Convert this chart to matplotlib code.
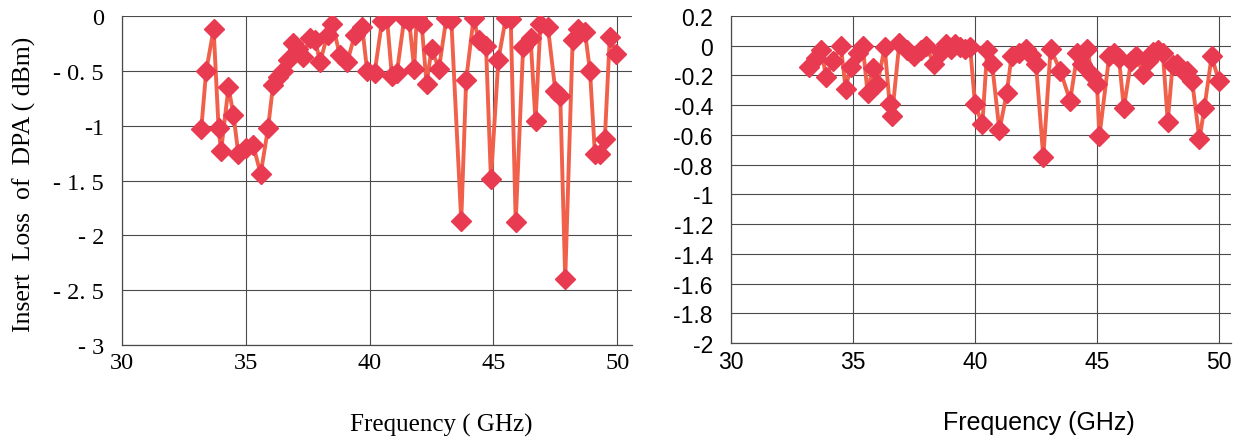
import numpy as np
import matplotlib.pyplot as plt

# left chart: insert loss of DPA (dBm) vs frequency
f_left = [33.2, 33.4, 33.7, 33.9, 34.0, 34.3, 34.5, 34.7, 35.0, 35.3, 35.6, 35.9,
          36.1, 36.3, 36.5, 36.7, 36.9, 37.1, 37.3, 37.6, 37.8, 38.0, 38.3, 38.5,
          38.8, 39.1, 39.4, 39.7, 39.9, 40.2, 40.5, 40.7, 40.9, 41.1, 41.4, 41.6,
          41.8, 41.9, 42.1, 42.3, 42.5, 42.8, 43.1, 43.3, 43.7, 43.9, 44.2, 44.4,
          44.7, 44.9, 45.2, 45.5, 45.7, 45.9, 46.2, 46.5, 46.7, 46.9, 47.2, 47.5,
          47.7, 47.9, 48.2, 48.4, 48.7, 48.9, 49.1, 49.3, 49.5, 49.7, 49.95]
il_left = [-1.03, -0.50, -0.12, -1.02, -1.23, -0.65, -0.90, -1.26, -1.20, -1.18, -1.44, -1.02,
           -0.63, -0.56, -0.50, -0.40, -0.25, -0.30, -0.37, -0.20, -0.22, -0.42, -0.17, -0.07,
           -0.36, -0.42, -0.17, -0.10, -0.50, -0.52, -0.05, -0.02, -0.55, -0.52, -0.02, -0.05,
           -0.48, -0.02, -0.07, -0.62, -0.30, -0.48, -0.02, -0.04, -1.87, -0.58, -0.02, -0.22,
           -0.27, -1.49, -0.40, -0.02, -0.03, -1.88, -0.28, -0.20, -0.96, -0.07, -0.10, -0.68,
           -0.73, -2.40, -0.22, -0.12, -0.15, -0.50, -1.26, -1.26, -1.12, -0.19, -0.35]

# right chart
f_right = [33.2, 33.5, 33.7, 33.9, 34.2, 34.5, 34.7, 34.9, 35.2, 35.4, 35.6, 35.8,
           36.0, 36.3, 36.5, 36.6, 36.9, 37.2, 37.5, 37.8, 38.0, 38.3, 38.6, 38.8,
           39.0, 39.2, 39.4, 39.6, 39.8, 40.0, 40.3, 40.5, 40.7, 41.0, 41.3, 41.5,
           41.8, 42.1, 42.3, 42.5, 42.8, 43.1, 43.5, 43.9, 44.2, 44.4, 44.6, 44.8,
           45.0, 45.1, 45.5, 45.7, 45.9, 46.1, 46.4, 46.6, 46.9, 47.1, 47.3, 47.5,
           47.7, 47.9, 48.1, 48.3, 48.5, 48.7, 48.9, 49.2, 49.4, 49.7, 50.0]
il_right = [-0.14, -0.08, -0.03, -0.21, -0.10, 0.00, -0.29, -0.14, -0.05, 0.00, -0.32, -0.15,
            -0.26, -0.01, -0.39, -0.47, 0.02, -0.03, -0.07, -0.03, 0.00, -0.12, -0.04, 0.01,
            -0.02, 0.01, -0.01, -0.02, -0.01, -0.39, -0.53, -0.03, -0.12, -0.57, -0.32, -0.07,
            -0.05, -0.02, -0.06, -0.12, -0.75, -0.02, -0.17, -0.37, -0.05, -0.12, -0.02, -0.20,
            -0.26, -0.61, -0.07, -0.05, -0.08, -0.42, -0.10, -0.07, -0.19, -0.10, -0.04, -0.03,
            -0.05, -0.51, -0.13, -0.12, -0.16, -0.17, -0.24, -0.63, -0.42, -0.07, -0.24]

left_yticks = [0, -0.5, -1, -1.5, -2, -2.5, -3]
left_ylabels = ['0', '- 0. 5', '-1', '- 1. 5', '- 2', '- 2. 5', '- 3']
right_yticks = np.round(np.arange(0.2, -2.01, -0.2), 1)
xticks = [30, 35, 40, 45, 50]

line_c = '#f0604a'
mark_c = '#e83a50'
grid_c = '#4a4a4a'

fig = plt.figure(figsize=(12.35, 4.39), dpi=100)
ax1 = fig.add_axes([0.0988, 0.2118, 0.4130, 0.7495])
ax2 = fig.add_axes([0.5919, 0.2164, 0.4050, 0.7449])

serif = 'Liberation Serif'
sans = 'Liberation Sans'

for ax in (ax1, ax2):
    ax.grid(True, color=grid_c, lw=0.8)
    ax.set_axisbelow(True)
    for s in ('top', 'right'):
        ax.spines[s].set_visible(False)
    for s in ('left', 'bottom'):
        ax.spines[s].set_color(grid_c)
        ax.spines[s].set_linewidth(0.9)
    ax.tick_params(axis='x', length=0, pad=5)
    ax.tick_params(axis='y', length=0, pad=13)
    ax.set_xticks(xticks)

ax1.plot(f_left, il_left, color=line_c, lw=2.8, marker='D', ms=10,
         mfc=mark_c, mec=mark_c)
ax1.set_xlim(30, 50.6)
ax1.set_ylim(-3, 0)
ax1.set_yticks(left_yticks)
ax1.set_yticklabels(left_ylabels)
for lab in ax1.get_xticklabels() + ax1.get_yticklabels():
    lab.set_fontfamily(serif)
    lab.set_fontsize(17.5)
ax1.set_xlabel('Frequency ( GHz)', fontfamily=serif, fontsize=18)
ax1.xaxis.set_label_coords(0.625, -0.205)
ax1.set_ylabel('Insert  Loss  of  DPA ( dBm)', fontfamily=serif, fontsize=18.5)
ax1.yaxis.set_label_coords(-0.168, 0.49)

ax2.plot(f_right, il_right, color=line_c, lw=2.8, marker='D', ms=10,
         mfc=mark_c, mec=mark_c)
ax2.set_xlim(30, 50.5)
ax2.set_ylim(-2, 0.2)
ax2.set_yticks(right_yticks)
ax2.set_yticklabels(['%g' % v if abs(v) > 1e-9 else '0' for v in right_yticks])
for lab in ax2.get_xticklabels() + ax2.get_yticklabels():
    lab.set_fontfamily(sans)
    lab.set_fontsize(16.5)
ax2.set_xlabel('Frequency (GHz)', fontfamily=sans, fontsize=18)
ax2.xaxis.set_label_coords(0.615, -0.205)

fig.savefig('out.png', dpi=100)
